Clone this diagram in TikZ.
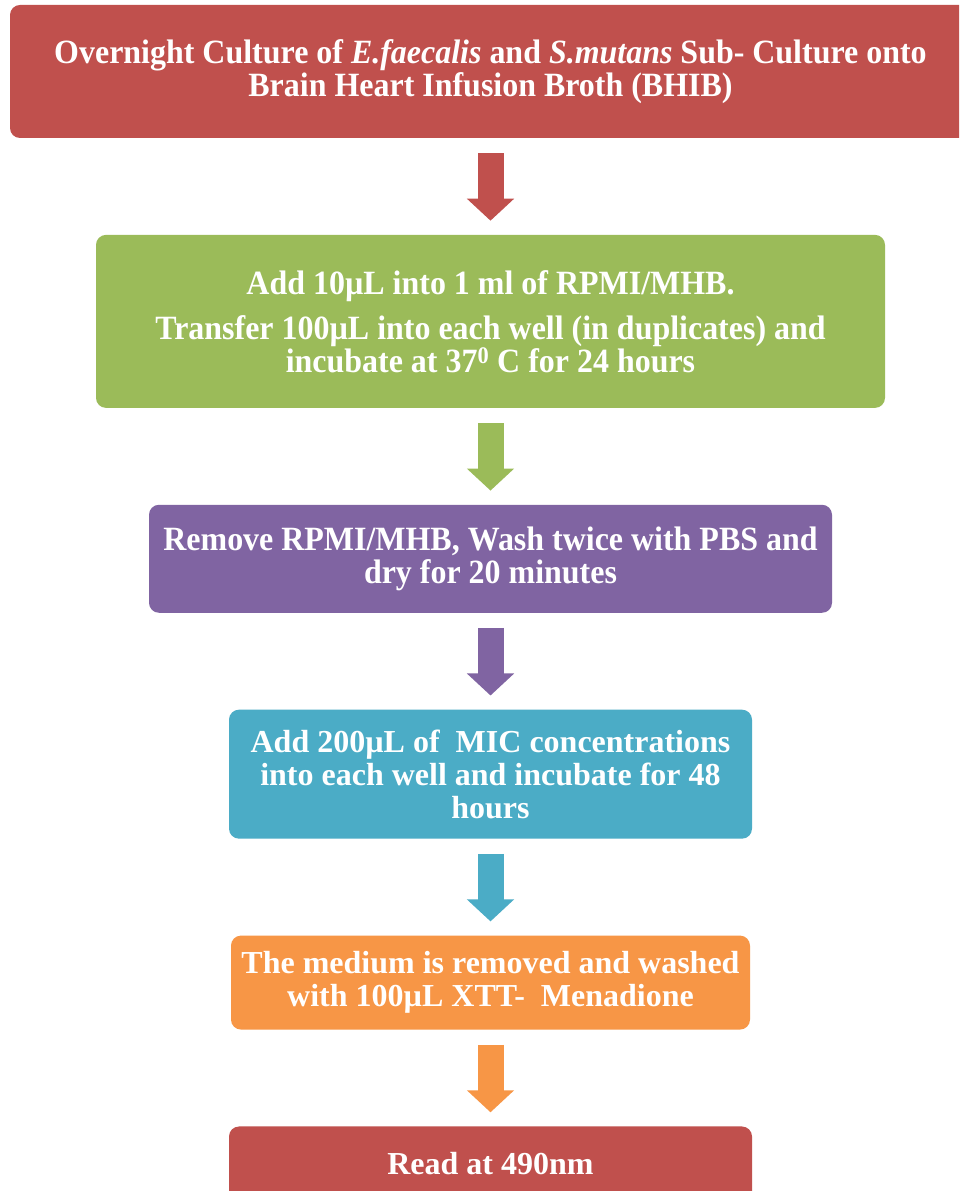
\documentclass[tikz,border=0pt]{standalone}
\usepackage{fontspec}
\setmainfont{Liberation Serif}
\newfontfamily\narrowserif[FakeStretch=0.94]{Liberation Serif}
\usepackage{tikz}
\usetikzlibrary{positioning, arrows.meta}

\definecolor{stepred}{HTML}{C0504D}
\definecolor{stepgreen}{HTML}{9BBB59}
\definecolor{steppurple}{HTML}{8064A2}
\definecolor{stepblue}{HTML}{4BACC6}
\definecolor{steporange}{HTML}{F79646}

\begin{document}
\begin{tikzpicture}[
  x=1pt, y=1pt,
  node distance=96.5pt,
  stepbox/.style={rounded corners=10pt, inner sep=0pt, align=center,
                  text=white, font=\bfseries\fontsize{32}{33}\selectfont},
  narrowbox/.style={stepbox, font=\narrowserif\bfseries\fontsize{34}{33}\selectfont},
  flow/.style={line width=26pt, -{Triangle[width=46pt,length=22pt]},
               shorten <=15pt, shorten >=14pt}
]
\clip (0,0) rectangle (959,1191);
\fill[white] (0,0) rectangle (959,1191);
\node[narrowbox, fill=stepred, minimum width=961pt, minimum height=133pt] (culture) at (490.5,1119.5)
  {Overnight Culture of \textit{E.faecalis} and \textit{S.mutans} Sub- Culture onto\\Brain Heart Infusion Broth (BHIB)};
\node[narrowbox, fill=stepgreen, minimum width=789pt, minimum height=173pt, below=of culture] (seed)
  {Add 10µL into 1 ml of RPMI/MHB.\\[12pt]Transfer 100µL into each well (in duplicates) and\\incubate at 37\textsuperscript{0} C for 24 hours};
\node[narrowbox, fill=steppurple, minimum width=683pt, minimum height=108pt, below=of seed] (wash)
  {Remove RPMI/MHB, Wash twice with PBS and\\dry for 20 minutes};
\node[stepbox, fill=stepblue, minimum width=523pt, minimum height=129pt, below=of wash] (mic)
  {Add 200µL of \ MIC concentrations\\into each well and incubate for 48\\hours};
\node[stepbox, fill=steporange, minimum width=519pt, minimum height=94pt, below=of mic] (xtt)
  {The medium is removed and washed\\with 100µL XTT- \ Menadione};
\node[stepbox, fill=stepred, minimum width=523pt, minimum height=75pt, below=of xtt] (read)
  {Read at 490nm};
% block arrows between the steps
\draw[flow, stepred] (culture.south) -- (seed.north);
\draw[flow, stepgreen] (seed.south) -- (wash.north);
\draw[flow, steppurple] (wash.south) -- (mic.north);
\draw[flow, stepblue] (mic.south) -- (xtt.north);
\draw[flow, steporange] (xtt.south) -- (read.north);
\end{tikzpicture}
\end{document}
